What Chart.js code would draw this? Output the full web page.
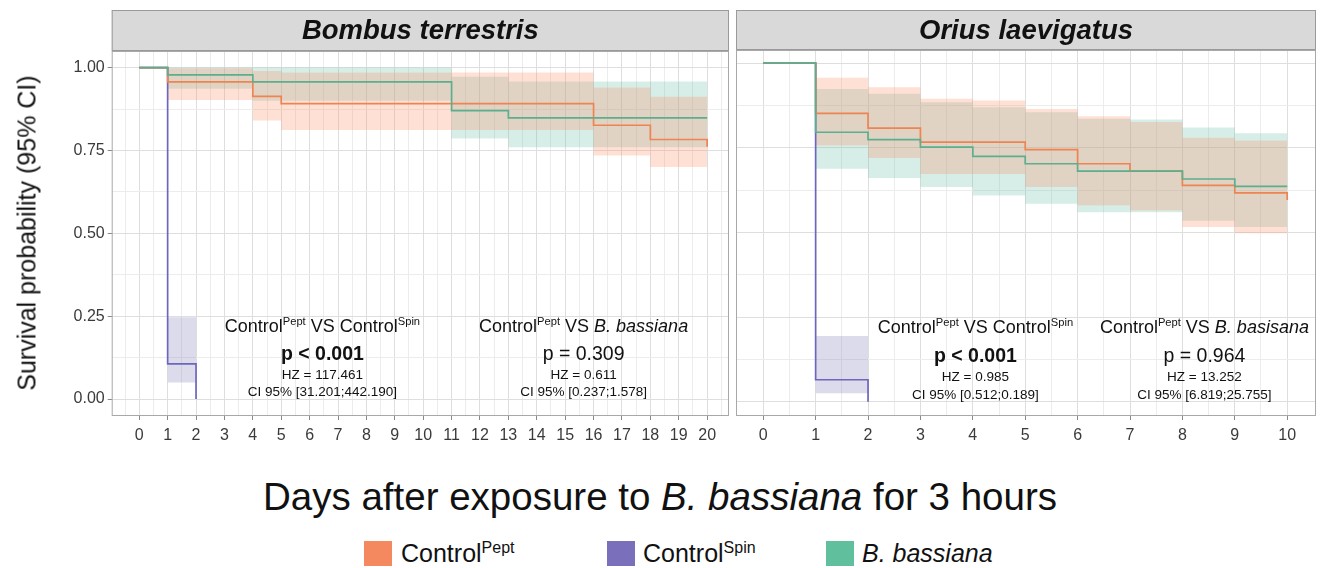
<!DOCTYPE html>
<html>
<head>
<meta charset="utf-8">
<script src="https://cdn.jsdelivr.net/npm/chart.js@4.4.1/dist/chart.umd.min.js"></script>
<style>
  html,body{margin:0;padding:0;background:#fff;}
  #wrap{position:relative;width:1321px;height:568px;background:#fff;font-family:'Liberation Sans',Arial,sans-serif;color:#111;}
  .abs{position:absolute;}
  .leg-sq{position:absolute;width:28px;height:25px;}
  .leg-tx{position:absolute;font-size:25px;line-height:25px;white-space:nowrap;}
  .leg-tx sup{font-size:16px;vertical-align:0;position:relative;top:-9px;}
</style>
</head>
<body>
<div id="wrap">
  <div class="abs" style="left:0;top:0;width:733px;height:460px;"><canvas id="c1"></canvas></div>
  <div class="abs" style="left:733px;top:0;width:588px;height:460px;"><canvas id="c2"></canvas></div>
  <div class="abs" id="ytitle" style="left:27px;top:233px;font-size:25px;white-space:nowrap;transform:translate(-50%,-50%) rotate(-90deg);">Survival probability (95% CI)</div>
  <div class="abs" id="xtitle" style="left:660px;top:497px;font-size:38.5px;white-space:nowrap;transform:translate(-50%,-50%);">Days after exposure to <i>B. bassiana</i> for 3 hours</div>
  <div class="leg-sq" style="left:364px;top:541px;background:#f4895f;"></div>
  <div class="leg-tx" style="left:401px;top:541px;">Control<sup>Pept</sup></div>
  <div class="leg-sq" style="left:607px;top:541px;background:#7a6fbb;"></div>
  <div class="leg-tx" style="left:643px;top:541px;">Control<sup>Spin</sup></div>
  <div class="leg-sq" style="left:826px;top:541px;background:#60bf9c;"></div>
  <div class="leg-tx" style="left:862px;top:541px;"><i>B. bassiana</i></div>
</div>
<script>
// ---------- tick labels ----------
const bombusDayTicks = [0,1,2,3,4,5,6,7,8,9,10,11,12,13,14,15,16,17,18,19,20];
const oriusDayTicks = [0,1,2,3,4,5,6,7,8,9,10];
const yTickValues = [0, 0.25, 0.5, 0.75, 1];
const yTickLabels = ['0.00','0.25','0.50','0.75','1.00'];
const panelTitles = ['Bombus terrestris', 'Orius laevigatus'];

// ---------- Bombus terrestris ----------
const btPeptTime  = [0, 1, 4, 5, 16, 18, 20];
const btPeptSurv  = [1, 0.957, 0.913, 0.891, 0.826, 0.783, 0.761];
const btPeptCiTime = [1, 4, 5, 16, 18, 20];
const btPeptUpper = [0.998, 0.99, 0.985, 0.94, 0.912, 0.912];
const btPeptLower = [0.902, 0.84, 0.812, 0.735, 0.70, 0.70];

const btSpinTime  = [0, 1, 2];
const btSpinSurv  = [1, 0.106, 0];
const btSpinCiTime = [1, 2];
const btSpinUpper = [0.247, 0.247];
const btSpinLower = [0.05, 0.05];

const btBbTime  = [0, 1, 4, 11, 13, 20];
const btBbSurv  = [1, 0.978, 0.957, 0.870, 0.848, 0.848];
const btBbCiTime = [1, 4, 11, 13, 20];
const btBbUpper = [1.0, 1.0, 0.972, 0.958, 0.958];
const btBbLower = [0.936, 0.90, 0.786, 0.76, 0.76];

// ---------- Orius laevigatus ----------
const olPeptTime  = [0, 1, 2, 3, 5, 6, 7, 8, 9, 10];
const olPeptSurv  = [1, 0.852, 0.808, 0.767, 0.745, 0.703, 0.681, 0.639, 0.617, 0.596];
const olPeptCiTime = [1, 2, 3, 4, 5, 6, 7, 8, 9, 10];
const olPeptUpper = [0.957, 0.929, 0.895, 0.89, 0.865, 0.843, 0.826, 0.78, 0.772, 0.772];
const olPeptLower = [0.757, 0.72, 0.673, 0.673, 0.634, 0.58, 0.565, 0.516, 0.498, 0.498];

const olSpinTime  = [0, 1, 2];
const olSpinSurv  = [1, 0.065, 0];
const olSpinCiTime = [1, 2];
const olSpinUpper = [0.194, 0.194];
const olSpinLower = [0.025, 0.025];

const olBbTime  = [0, 1, 2, 3, 4, 5, 6, 8, 9, 10];
const olBbSurv  = [1, 0.796, 0.774, 0.752, 0.725, 0.703, 0.681, 0.658, 0.636, 0.636];
const olBbCiTime = [1, 2, 3, 4, 5, 6, 7, 8, 9, 10];
const olBbUpper = [0.924, 0.91, 0.885, 0.87, 0.855, 0.836, 0.834, 0.81, 0.793, 0.793];
const olBbLower = [0.688, 0.661, 0.634, 0.609, 0.585, 0.56, 0.56, 0.535, 0.516, 0.516];

// ---------- annotation texts (statistics) ----------
const btCompare = [
  [{t:'Control'},{t:'Pept',sup:true},{t:' VS Control'},{t:'Spin',sup:true}],
  [{t:'Control'},{t:'Pept',sup:true},{t:' VS '},{t:'B. bassiana',it:true}]
];
const btP  = ['p < 0.001', 'p = 0.309'];
const btPBold = [true, false];
const btHZ = ['HZ = 117.461', 'HZ = 0.611'];
const btCI = ['CI 95% [31.201;442.190]', 'CI 95% [0.237;1.578]'];
const btAnnotX = [6.45, 15.65];

const olCompare = [
  [{t:'Control'},{t:'Pept',sup:true},{t:' VS Control'},{t:'Spin',sup:true}],
  [{t:'Control'},{t:'Pept',sup:true},{t:' VS '},{t:'B. basisana',it:true}]
];
const olP  = ['p < 0.001', 'p = 0.964'];
const olPBold = [true, false];
const olHZ = ['HZ = 0.985', 'HZ = 13.252'];
const olCI = ['CI 95% [0.512;0.189]', 'CI 95% [6.819;25.755]'];
const olAnnotX = [4.05, 8.42];

// ---------- styling ----------
const FAM = "'Liberation Sans', Arial, sans-serif";
const COL = {
  pept: '#ee8452', peptFill: 'rgba(252,141,98,0.27)',
  spin: '#6e66bd', spinFill: 'rgba(117,112,179,0.25)',
  bb:   '#5cae8e', bbFill: 'rgba(102,194,165,0.27)'
};

function pts(xs, ys){ return xs.map((x,i)=>({x:x, y:ys[i]})); }

function buildDatasets(g){
  const ds = [];
  const addBand = (t, up, lo, fill) => {
    const iu = ds.length;
    ds.push({data: pts(t, up), stepped: true, borderWidth: 0, pointRadius: 0, fill: false, order: 20, borderColor: 'rgba(0,0,0,0)'});
    ds.push({data: pts(t, lo), stepped: true, borderWidth: 0, pointRadius: 0, fill: iu, backgroundColor: fill, order: 20, borderColor: 'rgba(0,0,0,0)'});
  };
  addBand(g.peptCiT, g.peptUp, g.peptLo, COL.peptFill);
  addBand(g.bbCiT, g.bbUp, g.bbLo, COL.bbFill);
  addBand(g.spinCiT, g.spinUp, g.spinLo, COL.spinFill);
  const addLine = (t, s, c, order) => ds.push({data: pts(t, s), stepped: true, borderColor: c, borderWidth: 1.7, pointRadius: 0, fill: false, order: order});
  addLine(g.spinT, g.spinS, COL.spin, 3);
  addLine(g.peptT, g.peptS, COL.pept, 2);
  addLine(g.bbT, g.bbS, COL.bb, 1);
  return ds;
}

function drawRich(ctx, segs, cx, cy, size, bold){
  const parts = segs.map(s => {
    const sz = s.sup ? size*0.62 : size;
    const font = (s.it ? 'italic ' : '') + (bold ? 'bold ' : '') + sz + 'px ' + FAM;
    ctx.font = font;
    return {t: s.t, font: font, w: ctx.measureText(s.t).width, dy: s.sup ? -size*0.3 : 0};
  });
  const total = parts.reduce((a,p)=>a+p.w, 0);
  let x = cx - total/2;
  ctx.textAlign = 'left'; ctx.textBaseline = 'middle';
  parts.forEach(p => { ctx.font = p.font; ctx.fillText(p.t, x, cy + p.dy); x += p.w; });
}

function panelPlugin(title, ann){
  return {
    id: 'panel',
    afterDatasetsDraw(chart){
      const ctx = chart.ctx;
      const xs = chart.scales.x, ys = chart.scales.y;
      ctx.save();
      ctx.fillStyle = '#111';
      for (let i = 0; i < 2; i++){
        const cx = xs.getPixelForValue(ann.x[i]);
        drawRich(ctx, ann.cmp[i], cx, ys.getPixelForValue(0.218), 18);
        ctx.font = (ann.pb[i] ? 'bold ' : '') + '19.5px ' + FAM;
        ctx.textAlign = 'center'; ctx.textBaseline = 'middle';
        ctx.fillText(ann.p[i], cx, ys.getPixelForValue(0.133));
        ctx.font = '13.5px ' + FAM;
        ctx.fillText(ann.hz[i], cx, ys.getPixelForValue(0.071));
        ctx.fillText(ann.ci[i], cx, ys.getPixelForValue(0.02));
      }
      ctx.restore();
    },
    afterDraw(chart){
      const ctx = chart.ctx, ca = chart.chartArea;
      ctx.save();
      const top = 10;
      ctx.fillStyle = '#d9d9d9';
      ctx.fillRect(ca.left, top, ca.right - ca.left, ca.top - top);
      ctx.strokeStyle = '#9a9a9a'; ctx.lineWidth = 1;
      ctx.strokeRect(ca.left + 0.5, top + 0.5, ca.right - ca.left - 1, ca.top - top - 1);
      ctx.fillStyle = '#111';
      ctx.font = 'italic bold 27.5px ' + FAM;
      ctx.textAlign = 'center'; ctx.textBaseline = 'middle';
      ctx.fillText(title, (ca.left + ca.right)/2, (top + ca.top)/2 + 1);
      ctx.strokeStyle = '#a8a8a8';
      ctx.strokeRect(ca.left + 0.5, ca.top + 0.5, ca.right - ca.left - 1, ca.bottom - ca.top - 1);
      ctx.restore();
    }
  };
}

function isMajorX(v){ return Math.abs(v - Math.round(v)) < 1e-9; }
function isMajorY(v){ return yTickValues.some(t => Math.abs(t - v) < 1e-9); }

function makeChart(id, opts){
  const xGrid = [];
  for (let v = opts.gridXMin; v <= opts.gridXMax + 1e-9; v += 0.5) xGrid.push(Math.round(v*2)/2);
  const yGrid = [];
  for (let v = 0; v <= 1 + 1e-9; v += 0.125) yGrid.push(v);
  return new Chart(document.getElementById(id), {
    type: 'line',
    data: { datasets: buildDatasets(opts.g) },
    options: {
      responsive: true, maintainAspectRatio: false, animation: false,
      layout: { padding: opts.padding },
      plugins: { legend: {display: false}, tooltip: {enabled: false} },
      scales: {
        x: {
          type: 'linear', min: opts.xMin, max: opts.xMax,
          afterBuildTicks: s => { s.ticks = xGrid.map(v => ({value: v})); },
          afterFit: s => { s.height = opts.xAxisH; },
          border: {display: false},
          grid: {
            color: c => isMajorX(c.tick.value) ? '#dedede' : '#ececec',
            lineWidth: 1, tickLength: 4,
            tickColor: c => (isMajorX(c.tick.value) && opts.dayTicks.includes(Math.round(c.tick.value))) ? '#8a8a8a' : 'rgba(0,0,0,0)'
          },
          ticks: {
            autoSkip: false, maxRotation: 0, padding: 6, color: '#3a3a3a',
            font: {family: FAM, size: 16},
            callback: v => (isMajorX(v) && opts.dayTicks.includes(Math.round(v))) ? String(opts.dayTicks[opts.dayTicks.indexOf(Math.round(v))]) : ''
          }
        },
        y: {
          type: 'linear', min: opts.yMin, max: opts.yMax,
          afterBuildTicks: s => { s.ticks = yGrid.map(v => ({value: v})); },
          afterFit: s => { s.width = opts.yAxisW; },
          border: {display: false},
          grid: {
            color: c => isMajorY(c.tick.value) ? '#dedede' : '#ececec',
            lineWidth: 1, drawTicks: opts.showY, tickLength: 4,
            tickColor: c => isMajorY(c.tick.value) ? '#8a8a8a' : 'rgba(0,0,0,0)'
          },
          ticks: {
            display: opts.showY, padding: 3, color: '#3a3a3a',
            font: {family: FAM, size: 16},
            callback: v => { const i = yTickValues.findIndex(t => Math.abs(t - v) < 1e-9); return i >= 0 ? yTickLabels[i] : ''; }
          }
        }
      }
    },
    plugins: [panelPlugin(opts.title, opts.ann)]
  });
}

makeChart('c1', {
  g: {peptT: btPeptTime, peptS: btPeptSurv, peptCiT: btPeptCiTime, peptUp: btPeptUpper, peptLo: btPeptLower,
      spinT: btSpinTime, spinS: btSpinSurv, spinCiT: btSpinCiTime, spinUp: btSpinUpper, spinLo: btSpinLower,
      bbT: btBbTime, bbS: btBbSurv, bbCiT: btBbCiTime, bbUp: btBbUpper, bbLo: btBbLower},
  title: panelTitles[0],
  ann: {x: btAnnotX, cmp: btCompare, p: btP, pb: btPBold, hz: btHZ, ci: btCI},
  dayTicks: bombusDayTicks,
  xMin: -0.97, xMax: 20.77, gridXMin: -0.5, gridXMax: 20.5,
  yMin: -0.051, yMax: 1.05,
  padding: {top: 51, right: 4, left: 0, bottom: 0},
  xAxisH: 44, yAxisW: 111.7, showY: true
});

makeChart('c2', {
  g: {peptT: olPeptTime, peptS: olPeptSurv, peptCiT: olPeptCiTime, peptUp: olPeptUpper, peptLo: olPeptLower,
      spinT: olSpinTime, spinS: olSpinSurv, spinCiT: olSpinCiTime, spinUp: olSpinUpper, spinLo: olSpinLower,
      bbT: olBbTime, bbS: olBbSurv, bbCiT: olBbCiTime, bbUp: olBbUpper, bbLo: olBbLower},
  title: panelTitles[1],
  ann: {x: olAnnotX, cmp: olCompare, p: olP, pb: olPBold, hz: olHZ, ci: olCI},
  dayTicks: oriusDayTicks,
  xMin: -0.52, xMax: 10.55, gridXMin: 0, gridXMax: 10,
  yMin: -0.042, yMax: 1.039,
  padding: {top: 50, right: 5, left: 3, bottom: 0},
  xAxisH: 44, yAxisW: 0, showY: false
});
</script>
</body>
</html>
